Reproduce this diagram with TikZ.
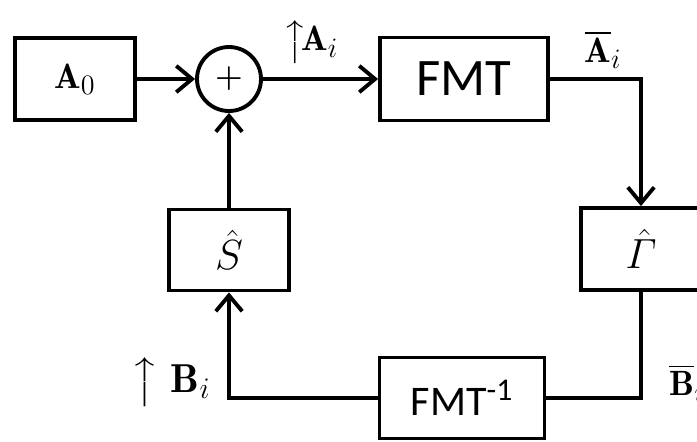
\documentclass[tikz,border=0pt]{standalone}
\usepackage{fix-cm}
\usepackage{amsmath,amssymb}
\usepackage{fontspec}
\newfontfamily\fmtfont{Carlito}
\usetikzlibrary{arrows.meta}
\DeclareMathSizes{20}{20}{16}{11}
\DeclareMathSizes{23}{23}{17}{12}
\DeclareMathSizes{24}{24}{18}{13}

\begin{document}
\begin{tikzpicture}[x=0.02cm,y=-0.02cm,line width=2.2pt,
  blk/.style={draw,line width=2.2pt,inner sep=0pt},
  sumnode/.style={draw,circle,line width=2.2pt,minimum size=1.28cm,inner sep=0pt},
  sig/.style={-{Straight Barb[length=9pt,width=15pt]}},
  lbl/.style={font=\fontsize{20}{22}\selectfont,inner sep=0pt}]
\clip (0,0) rectangle (697,441);
% forward path
\node[blk,minimum width=2.4cm,minimum height=1.64cm,font=\fontsize{20}{22}\selectfont] (a0) at (75,79) {$\mathbf{A}_0$};
\node[sumnode,font=\fontsize{18}{20}\selectfont] (sum) at (229,79) {$\boldsymbol{+}$};
\node[blk,minimum width=3.36cm,minimum height=1.66cm,font=\fontsize{30}{32}\fmtfont] (fmt) at (464,79) {FMT};
\node[blk,minimum width=2.4cm,minimum height=1.64cm,font=\fontsize{24}{26}\selectfont] (gam) at (641,249) {$\hat{\varGamma}$};
% feedback path
\node[blk,minimum width=3.3cm,minimum height=1.62cm,font=\fontsize{24}{26}\fmtfont] (ifmt) at (462,398) {FMT\textsuperscript{-1}};
\node[blk,minimum width=2.4cm,minimum height=1.62cm,font=\fontsize{24}{26}\selectfont] (shat) at (229,250) {$\hat{S}$};
% connectors
\draw[sig] (a0) -- (sum);
\draw[sig] (sum) -- (fmt);
\draw[sig] (fmt.east) -| (gam.north);
\draw (gam.south) |- (ifmt.east);
\draw[sig] (ifmt.west) -| (shat.south);
\draw[sig] (shat) -- (sum);
% signal labels
\node[lbl] (ailbl) at (311,42) {$\big\uparrow\!\mathbf{A}_i$};
\node[lbl] (abar) at (603,50) {$\overline{\mathbf{A}}_i$};
\node[lbl,font=\fontsize{23}{26}\selectfont] (bilbl) at (171,382) {$\big\uparrow\ \mathbf{B}_i$};
\node[lbl] (bbar) at (687,383) {$\overline{\mathbf{B}}_i$};
\end{tikzpicture}
\end{document}
